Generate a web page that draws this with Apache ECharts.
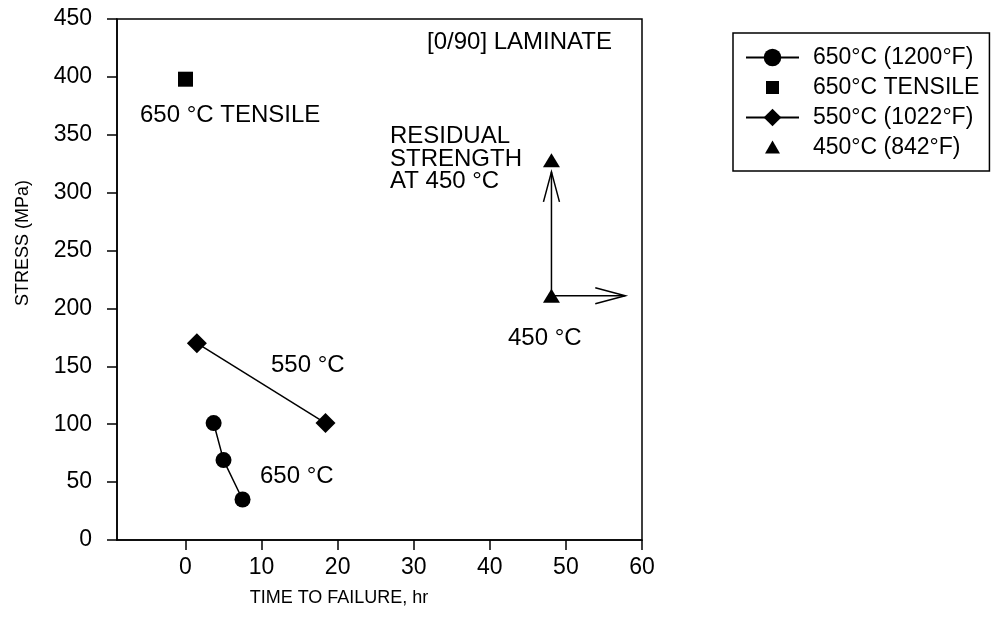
<!DOCTYPE html>
<html>
<head>
<meta charset="utf-8">
<script src="https://cdn.jsdelivr.net/npm/echarts@6/dist/echarts.min.js"></script>
<style>
  html, body { margin: 0; padding: 0; background: #fff; }
  #chart { width: 992px; height: 631px; }
</style>
</head>
<body>
<div id="chart"></div>
<script>
// data
var xTicks = [0, 10, 20, 30, 40, 50, 60];
var x650 = [3.7, 5.0, 7.5];
var y650 = [101, 69, 35];
var xTensile = [0];
var yTensile = [398];
var x550 = [1.5, 18.4];
var y550 = [170, 101];
var x450 = [48.1, 48.1];
var y450 = [328, 211];
// arrows: start point and tip
var arrowFrom = [[48.1, 211], [48.1, 211]];
var arrowTo = [[48.1, 318], [57.8, 211]];

var FONT = "Liberation Sans";

function pairs(xs, ys) {
  return xs.map(function (x, i) { return [x, ys[i]]; });
}

var chart = echarts.init(document.getElementById("chart"));

var option = {
  animation: false,
  backgroundColor: "#fff",
  grid: {
    left: 117, top: 19, right: 350, bottom: 91,
    show: true, borderColor: "#000", borderWidth: 1.5
  },
  xAxis: {
    type: "value",
    min: -9,
    max: 60,
    axisLine: { onZero: false, lineStyle: { color: "#000", width: 1.5 } },
    axisTick: { customValues: xTicks, length: 10, lineStyle: { color: "#000", width: 1.5 } },
    axisLabel: { customValues: xTicks, margin: 16, color: "#000", fontSize: 23, fontFamily: FONT },
    splitLine: { show: false }
  },
  yAxis: {
    type: "value",
    min: 0,
    max: 450,
    interval: 50,
    axisLine: { show: true, onZero: false, lineStyle: { color: "#000", width: 1.5 } },
    axisTick: { show: true, length: 10, lineStyle: { color: "#000", width: 1.5 } },
    axisLabel: { margin: 25, color: "#000", fontSize: 23, fontFamily: FONT },
    splitLine: { show: false }
  },
  legend: {
    orient: "vertical",
    left: 733,
    top: 33,
    padding: [13, 10, 12, 12],
    itemGap: 7,
    itemWidth: 53,
    itemHeight: 22,
    borderColor: "#000",
    borderWidth: 1.5,
    textStyle: { color: "#000", fontSize: 23, fontFamily: FONT, padding: [0, 0, 0, 9] },
    data: [
      { name: "650°C (1200°F)" },
      { name: "650°C TENSILE", icon: "path://M0,0 M4.5,4.5 h13 v13 h-13 Z M22,22" },
      { name: "550°C (1022°F)" },
      { name: "450°C (842°F)", icon: "path://M0,0 M11,4 L18.5,17 L3.5,17 Z M22,22" }
    ]
  },
  graphic: [
    { type: "text", x: 612, y: 42, style: { text: "[0/90] LAMINATE", fill: "#000", font: "24px " + FONT, align: "right", verticalAlign: "middle" } },
    { type: "text", x: 140, y: 115, style: { text: "650 °C TENSILE", fill: "#000", font: "24px " + FONT, align: "left", verticalAlign: "middle" } },
    { type: "text", x: 390, y: 159, style: { text: "RESIDUAL\nSTRENGTH\nAT 450 °C", fill: "#000", font: "24px " + FONT, lineHeight: 22.5, align: "left", verticalAlign: "middle" } },
    { type: "text", x: 508, y: 338, style: { text: "450 °C", fill: "#000", font: "24px " + FONT, align: "left", verticalAlign: "middle" } },
    { type: "text", x: 271, y: 365, style: { text: "550 °C", fill: "#000", font: "24px " + FONT, align: "left", verticalAlign: "middle" } },
    { type: "text", x: 260, y: 476, style: { text: "650 °C", fill: "#000", font: "24px " + FONT, align: "left", verticalAlign: "middle" } },
    { type: "text", x: 339, y: 598, style: { text: "TIME TO FAILURE, hr", fill: "#000", font: "18px " + FONT, align: "center", verticalAlign: "middle" } },
    { type: "text", x: 23, y: 243, rotation: Math.PI / 2, style: { text: "STRESS (MPa)", fill: "#000", font: "18px " + FONT, align: "center", verticalAlign: "middle" } }
  ],
  series: [
    {
      name: "arrows",
      type: "custom",
      silent: true,
      z: 1,
      data: arrowFrom.map(function (p, i) { return [p[0], p[1], arrowTo[i][0], arrowTo[i][1]]; }),
      renderItem: function (params, api) {
        var a = api.coord([api.value(0), api.value(1)]);
        var b = api.coord([api.value(2), api.value(3)]);
        var dx = b[0] - a[0], dy = b[1] - a[1];
        var len = Math.sqrt(dx * dx + dy * dy);
        var ux = dx / len, uy = dy / len;
        var hl = 30, hw = 8;
        var bx = b[0] - ux * hl, by = b[1] - uy * hl;
        var style = { stroke: "#000", lineWidth: 1.5, fill: null };
        return {
          type: "group",
          children: [
            { type: "line", shape: { x1: a[0], y1: a[1], x2: b[0], y2: b[1] }, style: style },
            { type: "polyline", shape: { points: [[bx - uy * hw, by + ux * hw], b, [bx + uy * hw, by - ux * hw]] }, style: style }
          ]
        };
      }
    },
    {
      name: "650°C (1200°F)",
      type: "line",
      data: pairs(x650, y650),
      symbol: "circle",
      symbolSize: 16,
      itemStyle: { color: "#000", opacity: 1 },
      lineStyle: { color: "#000", width: 1.5 },
      z: 3
    },
    {
      name: "650°C TENSILE",
      type: "scatter",
      data: pairs(xTensile, yTensile),
      symbol: "rect",
      symbolSize: 15,
      itemStyle: { color: "#000", opacity: 1 },
      z: 3
    },
    {
      name: "550°C (1022°F)",
      type: "line",
      data: pairs(x550, y550),
      symbol: "diamond",
      symbolSize: 20,
      itemStyle: { color: "#000", opacity: 1 },
      lineStyle: { color: "#000", width: 1.5 },
      z: 3
    },
    {
      name: "450°C (842°F)",
      type: "scatter",
      data: pairs(x450, y450),
      symbol: "triangle",
      symbolSize: [17, 14],
      itemStyle: { color: "#000", opacity: 1 },
      z: 3
    }
  ]
};

chart.setOption(option);
</script>
</body>
</html>
